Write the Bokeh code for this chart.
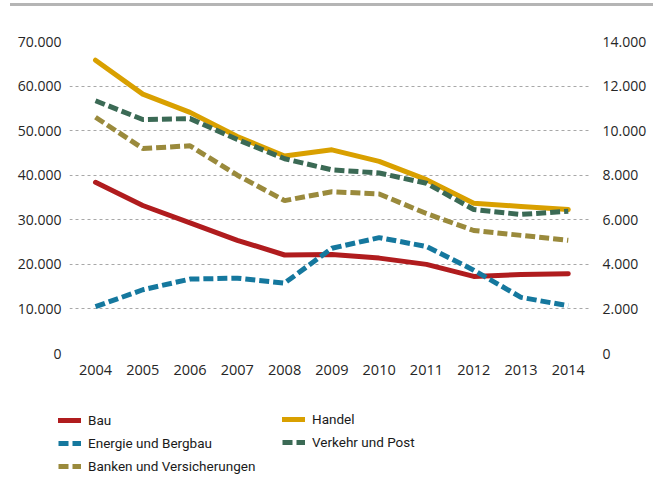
from bokeh.plotting import figure
from bokeh.layouts import column
from bokeh.models import (Range1d, LinearAxis, FixedTicker, CustomJSTickFormatter,
                          Legend, LegendItem, Grid, Div, Column)
from bokeh.embed import file_html
from bokeh.resources import INLINE

years = [2004, 2005, 2006, 2007, 2008, 2009, 2010, 2011, 2012, 2013, 2014]
bau = [38400, 33200, 29300, 25400, 22100, 22200, 21400, 20000, 17300, 17700, 17900]
handel = [65800, 58200, 54100, 48700, 44300, 45700, 43100, 39000, 33700, 33000, 32300]
energie = [10500, 14300, 16700, 16900, 15800, 23600, 26000, 24000, 18700, 12600, 10700]
verkehr = [56700, 52500, 52700, 48000, 43700, 41200, 40500, 38200, 32300, 31200, 31900]
banken = [53000, 46000, 46600, 40000, 34300, 36300, 35800, 31400, 27600, 26500, 25400]

left_ticks = [0, 10000, 20000, 30000, 40000, 50000, 60000, 70000]
right_ticks = [0, 2000, 4000, 6000, 8000, 10000, 12000, 14000]

C_BAU = "#b01c1e"
C_HANDEL = "#d9a000"
C_ENERGIE = "#15789e"
C_VERKEHR = "#3b6a55"
C_BANKEN = "#9a8a3c"

TICK_FONT = "Open Sans"
LEG_FONT = "Roboto"

# thin grey rule at the top
rule = Div(text="", width=643, height=3, margin=(3, 8, 0, 10),
           styles={"background-color": "#b5b5b5"})

p = figure(width=661, height=374, output_backend="svg", toolbar_location=None,
           x_range=Range1d(2003.45, 2014.47), y_range=Range1d(0, 70000),
           min_border_left=69, min_border_right=71, min_border_top=35,
           min_border_bottom=27, y_axis_type=None, margin=0)
p.outline_line_color = None
p.extra_y_ranges = {"right": Range1d(0, 14000)}

fmt = CustomJSTickFormatter(code="return Math.round(tick).toString().replace(/\\B(?=(\\d{3})+(?!\\d))/g, '.');")

yl = LinearAxis(ticker=FixedTicker(ticks=left_ticks), formatter=fmt)
yr = LinearAxis(y_range_name="right", ticker=FixedTicker(ticks=right_ticks), formatter=fmt)
for ax in (yl, yr):
    ax.axis_line_color = None
    ax.major_tick_line_color = None
    ax.minor_tick_line_color = None
    ax.major_label_text_font = TICK_FONT
    ax.major_label_text_font_size = "14px"
    ax.major_label_text_color = "#262626"
yl.major_label_standoff = 2
yr.major_label_standoff = 6
p.add_layout(yl, "left")
p.add_layout(yr, "right")

xa = p.xaxis[0]
xa.ticker = FixedTicker(ticks=years)
xa.axis_line_color = None
xa.major_tick_line_color = None
xa.minor_tick_line_color = None
xa.major_label_text_font = TICK_FONT
xa.major_label_text_font_size = "14.5px"
xa.major_label_text_color = "#262626"
xa.major_label_standoff = 5

p.xgrid.grid_line_color = None
p.ygrid.grid_line_color = None
g = Grid(dimension=1, ticker=FixedTicker(ticks=left_ticks))
g.grid_line_color = "#a8a8a8"
g.grid_line_dash = "3 3"
g.grid_line_width = 1
p.add_layout(g)

DASH = "10 4"
styles = {
    "bau": dict(line_color=C_BAU, line_width=5, line_join="round", line_cap="round"),
    "handel": dict(line_color=C_HANDEL, line_width=5, line_join="round", line_cap="round"),
    "energie": dict(line_color=C_ENERGIE, line_width=5, line_dash=DASH),
    "verkehr": dict(line_color=C_VERKEHR, line_width=5, line_dash=DASH),
    "banken": dict(line_color=C_BANKEN, line_width=5, line_dash=DASH),
}
series = {"bau": bau, "handel": handel, "energie": energie,
          "verkehr": verkehr, "banken": banken}
for k in ["bau", "handel", "energie", "verkehr", "banken"]:
    p.line(years, series[k], **styles[k])

# legend strip below the chart (proxy lines lie outside its visible ranges)
lf = figure(width=661, height=97, output_backend="svg", toolbar_location=None,
            x_axis_type=None, y_axis_type=None, margin=0,
            min_border_left=0, min_border_right=0, min_border_top=0, min_border_bottom=0,
            x_range=Range1d(0, 1), y_range=Range1d(0, 1))
lf.outline_line_color = None
lf.xgrid.grid_line_color = None
lf.ygrid.grid_line_color = None
lr = {k: lf.line(years, series[k], **styles[k]) for k in styles}

def mk_legend(items, loc):
    lg = Legend(items=items, location=loc)
    lg.border_line_color = None
    lg.background_fill_alpha = 0
    lg.padding = 0
    lg.margin = 0
    lg.spacing = 7
    lg.glyph_width = 23
    lg.glyph_height = 16
    lg.label_height = 16
    lg.label_standoff = 7
    lg.label_text_font = LEG_FONT
    lg.label_text_font_size = "13.5px"
    lg.label_text_color = "#1a1a1a"
    return lg

leg1 = mk_legend([LegendItem(label="Bau", renderers=[lr["bau"]]),
                  LegendItem(label="Energie und Bergbau", renderers=[lr["energie"]]),
                  LegendItem(label="Banken und Versicherungen", renderers=[lr["banken"]])],
                 (58, 3))
leg2 = mk_legend([LegendItem(label="Handel", renderers=[lr["handel"]]),
                  LegendItem(label="Verkehr und Post", renderers=[lr["verkehr"]])],
                 (282, 27))
lf.add_layout(leg1, "center")
lf.add_layout(leg2, "center")

# nest the legend strip so its frame is not aligned with the chart's frame
layout = column(rule, p, Column(children=[lf], spacing=0), spacing=0)
open("out.html", "w").write(file_html(layout, INLINE))
